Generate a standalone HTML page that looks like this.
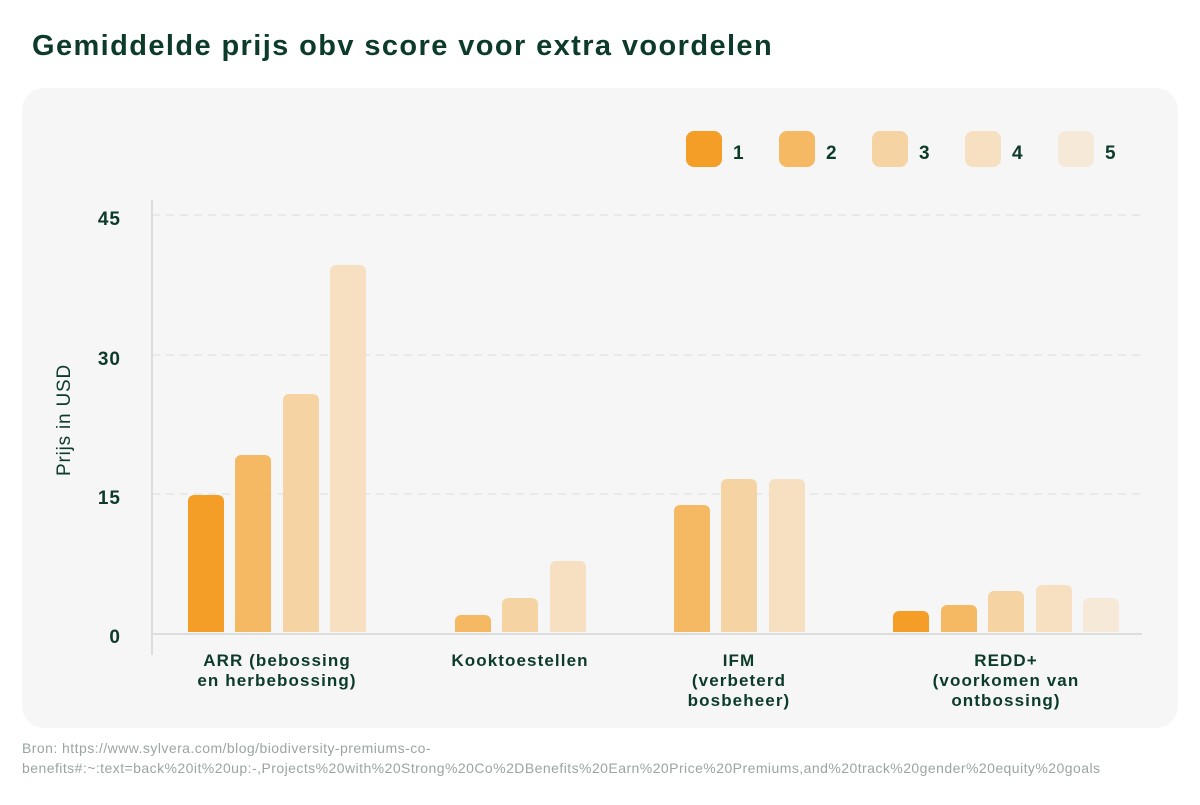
<!DOCTYPE html>
<html><head><meta charset="utf-8"><style>
body{margin:0;width:1200px;height:800px;background:#fff;font-family:"Liberation Sans",sans-serif;overflow:hidden}
</style></head><body>
<svg width="1200" height="800" xmlns="http://www.w3.org/2000/svg" font-family="Liberation Sans, sans-serif">
<text x="32" y="55" font-size="29" font-weight="bold" fill="#0d3b2a" letter-spacing="1.4">Gemiddelde prijs obv score voor extra voordelen</text>
<rect x="22" y="88" width="1156" height="640" rx="22" fill="#f5f6f5"/>
<g stroke="#e3e5e3" stroke-width="1.5" stroke-dasharray="8,6">
<line x1="152" y1="215" x2="1142" y2="215"/><line x1="152" y1="355" x2="1142" y2="355"/><line x1="152" y1="494" x2="1142" y2="494"/></g>
<line x1="152" y1="200" x2="152" y2="655" stroke="#dcdedc" stroke-width="2"/>
<line x1="152" y1="634" x2="1142" y2="634" stroke="#dcdedc" stroke-width="2"/>
<g font-size="19" font-weight="bold" fill="#0d3b2a" text-anchor="end" letter-spacing="1">
<text x="121" y="225">45</text><text x="121" y="365">30</text><text x="121" y="504">15</text><text x="121" y="643">0</text></g>
<text transform="translate(70,420) rotate(-90)" font-size="19" fill="#0d3b2a" text-anchor="middle" letter-spacing="0.8">Prijs in USD</text>
<g>
<path d="M188 632V501a6 6 0 0 1 6-6h24a6 6 0 0 1 6 6V632Z" fill="#f59e27"/>
<path d="M235 632V461a6 6 0 0 1 6-6h24a6 6 0 0 1 6 6V632Z" fill="#f5b963"/>
<path d="M283 632V400a6 6 0 0 1 6-6h24a6 6 0 0 1 6 6V632Z" fill="#f6d3a2"/>
<path d="M330 632V271a6 6 0 0 1 6-6h24a6 6 0 0 1 6 6V632Z" fill="#f7e0c1"/>
<path d="M455 632V621a6 6 0 0 1 6-6h24a6 6 0 0 1 6 6V632Z" fill="#f5b963"/>
<path d="M502 632V604a6 6 0 0 1 6-6h24a6 6 0 0 1 6 6V632Z" fill="#f6d3a2"/>
<path d="M550 632V567a6 6 0 0 1 6-6h24a6 6 0 0 1 6 6V632Z" fill="#f7e0c1"/>
<path d="M674 632V511a6 6 0 0 1 6-6h24a6 6 0 0 1 6 6V632Z" fill="#f5b963"/>
<path d="M721 632V485a6 6 0 0 1 6-6h24a6 6 0 0 1 6 6V632Z" fill="#f6d3a2"/>
<path d="M769 632V485a6 6 0 0 1 6-6h24a6 6 0 0 1 6 6V632Z" fill="#f7e0c1"/>
<path d="M893 632V617a6 6 0 0 1 6-6h24a6 6 0 0 1 6 6V632Z" fill="#f59e27"/>
<path d="M941 632V611a6 6 0 0 1 6-6h24a6 6 0 0 1 6 6V632Z" fill="#f5b963"/>
<path d="M988 632V597a6 6 0 0 1 6-6h24a6 6 0 0 1 6 6V632Z" fill="#f6d3a2"/>
<path d="M1036 632V591a6 6 0 0 1 6-6h24a6 6 0 0 1 6 6V632Z" fill="#f7e0c1"/>
<path d="M1083 632V604a6 6 0 0 1 6-6h24a6 6 0 0 1 6 6V632Z" fill="#f7e9d8"/>
</g>
<g font-size="17" font-weight="bold" fill="#0d3b2a" text-anchor="middle" letter-spacing="1.1">
<text x="277" y="666">ARR (bebossing</text><text x="277" y="686">en herbebossing)</text>
<text x="520" y="666">Kooktoestellen</text>
<text x="739" y="666">IFM</text><text x="739" y="686">(verbeterd</text><text x="739" y="706">bosbeheer)</text>
<text x="1006" y="666">REDD+</text><text x="1006" y="686">(voorkomen van</text><text x="1006" y="706">ontbossing)</text>
</g>
<g font-size="19" font-weight="bold" fill="#0d3b2a">
<rect x="686" y="131" width="36" height="36" rx="8" fill="#f59e27"/><text x="733" y="159">1</text>
<rect x="779" y="131" width="36" height="36" rx="8" fill="#f5b963"/><text x="826" y="159">2</text>
<rect x="872" y="131" width="36" height="36" rx="8" fill="#f6d3a2"/><text x="919" y="159">3</text>
<rect x="965" y="131" width="36" height="36" rx="8" fill="#f7e0c1"/><text x="1012" y="159">4</text>
<rect x="1058" y="131" width="36" height="36" rx="8" fill="#f7e9d8"/><text x="1105" y="159">5</text>
</g>
<g font-size="14" fill="#9aa5a0" letter-spacing="0.45">
<text x="22" y="753">Bron: https://www.sylvera.com/blog/biodiversity-premiums-co-</text>
<text x="22" y="773">benefits#:~:text=back%20it%20up:-,Projects%20with%20Strong%20Co%2DBenefits%20Earn%20Price%20Premiums,and%20track%20gender%20equity%20goals</text>
</g>
</svg>
</body></html>
